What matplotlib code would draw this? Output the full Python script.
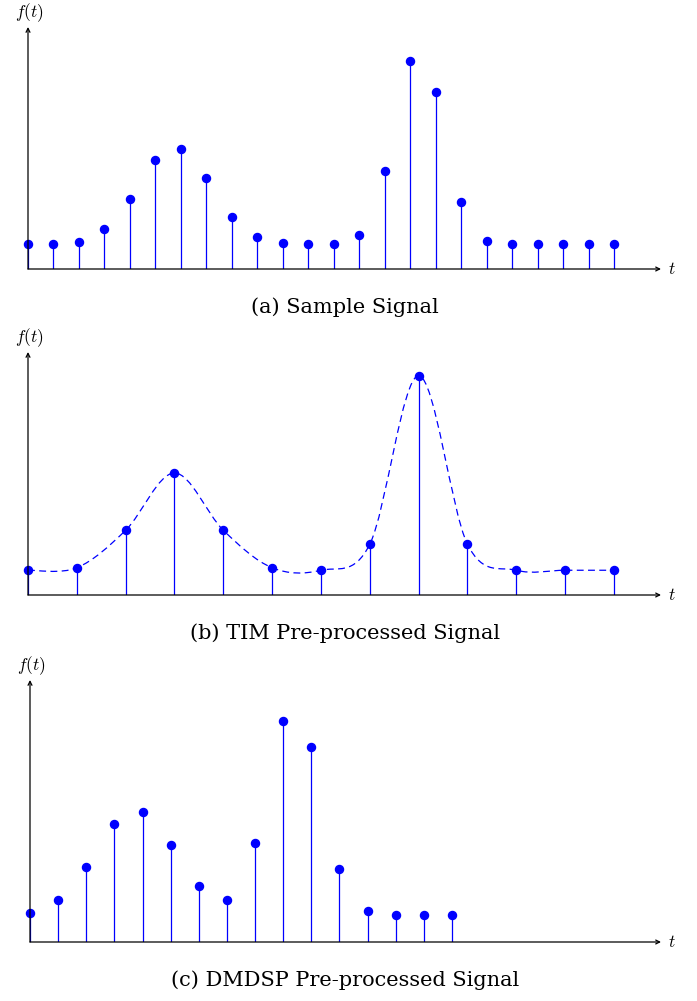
import matplotlib.pyplot as plt
import numpy as np
from matplotlib.path import Path
from matplotlib.patches import PathPatch

plt.rcParams["mathtext.fontset"] = "cm"

# signal samples (arbitrary units)
sample_signal = [0.99, 1.0, 1.09, 1.6, 2.82, 4.37, 4.81, 3.64, 2.1, 1.27, 1.03, 1.0,
                 1.0, 1.37, 3.93, 8.3, 7.09, 2.68, 1.13, 0.99, 0.99, 0.99, 0.99, 0.99]
tim_signal = [0.99, 1.09, 2.59, 4.88, 2.59, 1.09, 0.99, 2.03, 8.77, 2.03, 0.99, 0.99, 0.99]
dmdsp_signal = [1.17, 1.68, 2.99, 4.71, 5.2, 3.89, 2.24, 1.69, 3.97, 8.83, 7.8, 2.93,
                1.23, 1.07, 1.07, 1.07]

captions = ["(a) Sample Signal", "(b) TIM Pre-processed Signal",
            "(c) DMDSP Pre-processed Signal"]

W, H = 697, 1001
BLUE = "#0000ff"
PX_PER_UNIT = 25.0

fig = plt.figure(figsize=(W / 100, H / 100), dpi=100)

# pixel layout of each panel: origin x, sample spacing, baseline y, axis tip y, x-axis tip x
layout = [
    dict(x0=28, dx=25.48, y0=269, ytop=27, xend=661, caption_y=307),
    dict(x0=28, dx=48.83, y0=595, ytop=352, xend=661, caption_y=633),
    dict(x0=30, dx=28.13, y0=942, ytop=680, xend=661, caption_y=980),
]


def smooth_path(x, y):
    # Catmull-Rom spline through the samples, as cubic Bezier segments
    pts = np.column_stack([x, y])
    ext = np.vstack([pts[0], pts, pts[-1]])
    verts = [pts[0]]
    codes = [Path.MOVETO]
    for i in range(len(pts) - 1):
        p0, p1, p2, p3 = ext[i], ext[i + 1], ext[i + 2], ext[i + 3]
        verts += [p1 + (p2 - p0) / 6, p2 - (p3 - p1) / 6, p2]
        codes += [Path.CURVE4] * 3
    return Path(verts, codes)


def draw_panel(values, lay, caption, curve=False):
    x0, dx, y0, ytop, xend = lay["x0"], lay["dx"], lay["y0"], lay["ytop"], lay["xend"]
    ax = fig.add_axes([x0 / W, 1 - y0 / H, (xend - x0) / W, (y0 - ytop) / H])
    ax.set_xlim(0, (xend - x0) / dx)
    ax.set_ylim(0, (y0 - ytop) / PX_PER_UNIT)
    ax.axis("off")

    t = np.arange(len(values))
    markers, stems, base = ax.stem(t, values, linefmt="-", markerfmt="o", basefmt=" ")
    stems.set_color(BLUE)
    stems.set_linewidth(0.9)
    markers.set_color(BLUE)
    markers.set_markersize(5.8)
    markers.set_clip_on(False)

    if curve:
        patch = PathPatch(smooth_path(t, np.array(values)), fill=False,
                          edgecolor=BLUE, lw=0.9, linestyle=(0, (5.5, 3.5)))
        ax.add_patch(patch)

    xmax = ax.get_xlim()[1]
    ymax = ax.get_ylim()[1]
    arrow = dict(arrowstyle="->", lw=0.9, color="black", mutation_scale=7,
                 shrinkA=0, shrinkB=0)
    ax.annotate("", xy=(xmax, 0), xytext=(0, 0), arrowprops=arrow, annotation_clip=False)
    ax.annotate("", xy=(0, ymax), xytext=(0, 0), arrowprops=arrow, annotation_clip=False)

    fig.text((xend + 11) / W, 1 - y0 / H, r"$t$", fontsize=12.5,
             ha="center", va="center")
    fig.text((x0 + 1) / W, 1 - (ytop - 14) / H, r"$f(t)$", fontsize=12.5,
             ha="center", va="center")
    fig.text(345 / W, 1 - lay["caption_y"] / H, caption, fontsize=15,
             family="DejaVu Serif", ha="center", va="center")


draw_panel(sample_signal, layout[0], captions[0])
draw_panel(tim_signal, layout[1], captions[1], curve=True)
draw_panel(dmdsp_signal, layout[2], captions[2])

fig.savefig("out.png", dpi=100)
